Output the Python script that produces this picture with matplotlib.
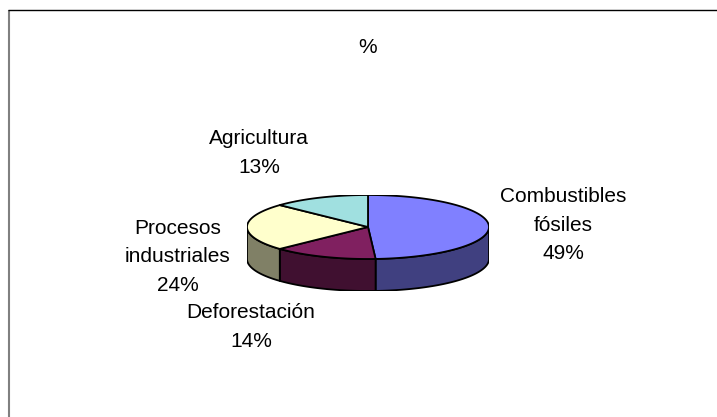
import numpy as np
import matplotlib
matplotlib.use("Agg")
import matplotlib.pyplot as plt
from matplotlib.patches import Polygon

labels = ["Combustibles\nfósiles\n49%", "Deforestación\n14%", "Procesos\nindustriales\n24%", "Agricultura\n13%"]
values = [49, 14, 24, 13]
top_colors = ["#8080FF", "#802060", "#FFFFCC", "#A0E0E0"]
side_colors = ["#404080", "#401030", "#808066", "#507070"]
title = "%"

W, H = 717, 417
fig = plt.figure(figsize=(W / 100, H / 100), dpi=100, facecolor="white")
plt.rcParams["font.family"] = ["Liberation Sans", "DejaVu Sans"]

# frame: only the left and top edges are visible
bg = fig.add_axes([0, 0, 1, 1])
bg.set_xlim(0, W); bg.set_ylim(H, 0); bg.axis("off")
bg.plot([8.5, 8.5], [H, 9.5], color="#808080", lw=1.5, solid_capstyle="butt")
bg.plot([8, W], [9.5, 9.5], color="black", lw=1.0, solid_capstyle="butt")

# pie: unit ellipse squashed by the axes limits
cx, cy, rx, ry = 368, 227, 121, 32
ax = fig.add_axes([(cx - rx) / W, 1 - (cy + ry + ry) / H, 2 * rx / W, 3 * ry / H])
ax.set_xlim(-1, 1); ax.set_ylim(-2, 1); ax.axis("off"); ax.patch.set_alpha(0)
depth = 1.0
edge = dict(edgecolor="black", linewidth=1.3, joinstyle="round")

fracs = np.cumsum([0] + values) / sum(values) * 2 * np.pi
for a0, a1, side in zip(fracs[:-1], fracs[1:], side_colors):
    # clockwise angle from 12 o'clock; the front wall is where cos(t) < 0
    lo, hi = max(a0, np.pi / 2), min(a1, 3 * np.pi / 2)
    if hi > lo:
        t = np.linspace(lo, hi, 80)
        x, y = np.sin(t), np.cos(t)
        pts = np.r_[np.c_[x, y], np.c_[x, y - depth][::-1]]
        ax.add_patch(Polygon(pts, closed=True, facecolor=side, **edge))
for a0, a1, top in zip(fracs[:-1], fracs[1:], top_colors):
    t = np.linspace(a0, a1, 120)
    pts = np.r_[[[0, 0]], np.c_[np.sin(t), np.cos(t)]]
    ax.add_patch(Polygon(pts, closed=True, facecolor=top, **edge))

fs = 15
kw = dict(ha="center", va="center", fontsize=fs, color="black", linespacing=1.63)
bg.text(368, 47, title, **kw)
bg.text(563, 225, labels[0], **kw)
bg.text(251, 327, labels[1], **kw)
bg.text(178, 257, labels[2], **kw)
bg.text(259, 153, labels[3], **kw)

fig.savefig("out.png", dpi=100, facecolor="white")
